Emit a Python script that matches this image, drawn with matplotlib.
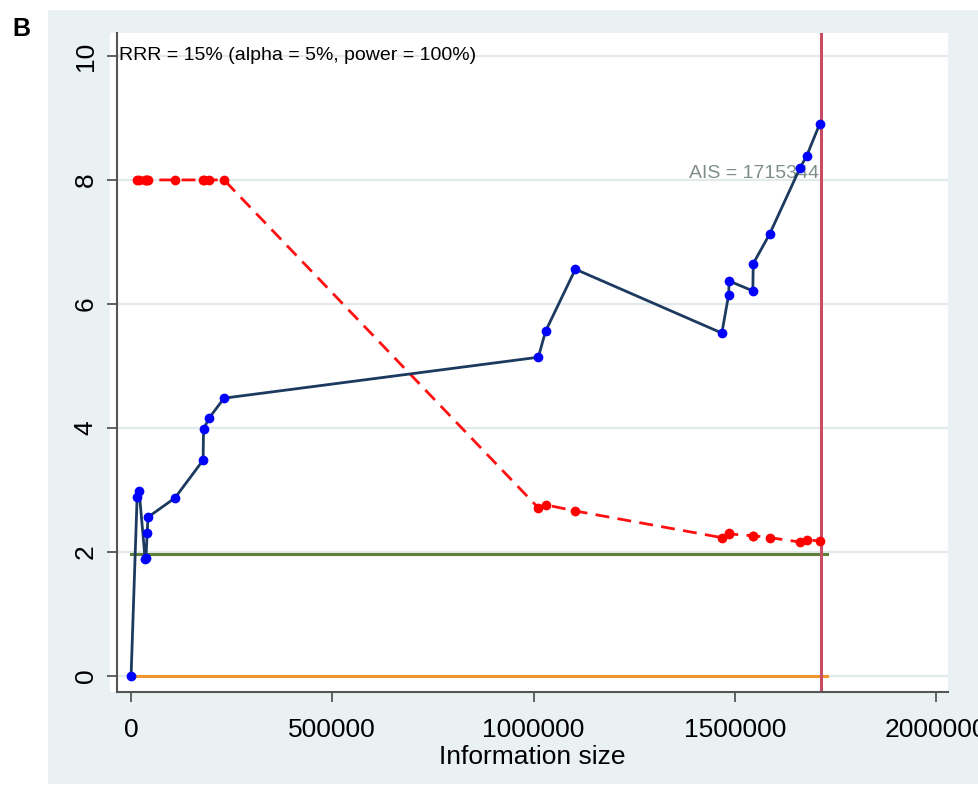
import matplotlib
matplotlib.use("Agg")
import matplotlib.pyplot as plt
from matplotlib.patches import Rectangle

# cumulative information size of the trials
info = [0, 15000, 20000, 35000, 37000, 40000, 42000, 109000, 179000, 180000,
        194000, 231000, 1012000, 1030000, 1104000, 1468000, 1485000, 1486000,
        1545000, 1546000, 1587000, 1662000, 1679000, 1711000]
# cumulative z-curve
zcurve = [0, 2.89, 2.98, 1.88, 1.90, 2.31, 2.56, 2.87, 3.48, 3.98, 4.16, 4.48,
          5.14, 5.56, 6.56, 5.53, 6.15, 6.37, 6.21, 6.65, 7.13, 8.19, 8.39, 8.90]
# monitoring boundary (from the 2nd trial on)
boundary = [8, 8, 8, 8, 8, 8, 8, 8, 8, 8, 8, 2.71, 2.76, 2.66, 2.23, 2.31,
            2.29, 2.26, 2.26, 2.23, 2.16, 2.19, 2.18]
hline_x = [0, 1730000]
z_conv = 1.96
ais = 1715344
xticks = [0, 500000, 1000000, 1500000, 2000000]
yticks = [0, 2, 4, 6, 8, 10]

plt.rcParams['font.family'] = ['Liberation Sans', 'DejaVu Sans']

W, H = 979, 791
fig = plt.figure(figsize=(W / 100, H / 100), dpi=100)
fig.patch.set_facecolor('white')

# stata style gray panel and white plot region
fig.patches.append(Rectangle((48 / W, 1 - 784 / H), (W - 48) / W, (784 - 10) / H,
                             transform=fig.transFigure, facecolor='#e9f1f3',
                             edgecolor='none', zorder=-10))
fig.patches.append(Rectangle((110 / W, 1 - 692 / H), (948 - 110) / W, (692 - 33) / H,
                             transform=fig.transFigure, facecolor='white',
                             edgecolor='none', zorder=-9))

ax = fig.add_axes([117 / W, 1 - 692 / H, (948 - 117) / W, (692 - 33) / H])
ax.set_facecolor('white')

ax.plot(hline_x, [0, 0], color='#f0962e', lw=2.2, zorder=2)
ax.plot(hline_x, [z_conv, z_conv], color='#5e7f36', lw=2.2, zorder=2)
ax.axvline(ais, color='#c84c62', lw=2.2, zorder=2)

ax.plot(info[1:], boundary, color='#ff1010', lw=2.0, ls=(0, (5, 3)),
        marker='o', ms=6, mfc='#ff0000', mec='#ff0000', zorder=3)
ax.plot(info, zcurve, color='#1c3a60', lw=2.0, marker='o', ms=6,
        mfc='#0000ff', mec='#0000ff', zorder=4)

ax.text(ais - 5000, 8.1, 'AIS = 1715344', color='#7f8f88', fontsize=14,
        ha='right', va='center', zorder=3)
ax.text(-30000, 10.0, 'RRR = 15% (alpha = 5%, power = 100%)', color='black',
        fontsize=14, ha='left', va='center')

ax.set_xlim(-35000, 2030000)
ax.set_ylim(-0.26, 10.37)
ax.set_xticks(xticks)
ax.set_xticklabels([str(v) for v in xticks], fontsize=19)
ax.set_yticks(yticks)
ax.set_yticklabels([str(v) for v in yticks], fontsize=19, rotation=90, va='center')
ax.yaxis.grid(True, color='#e2eaec', lw=1.6)
ax.set_axisbelow(True)
ax.tick_params(direction='out', length=7, width=1.3, color='#555555')
ax.tick_params(axis='x', pad=12)
ax.tick_params(axis='y', pad=7)
for s in ['top', 'right']:
    ax.spines[s].set_visible(False)
for s in ['left', 'bottom']:
    ax.spines[s].set_color('#555555')
    ax.spines[s].set_linewidth(1.5)
ax.set_xlabel('Information size', fontsize=19, labelpad=2)

fig.text(12 / W, 1 - 36 / H, 'B', fontsize=18, fontweight='bold')

fig.savefig('out.png', dpi=100)
